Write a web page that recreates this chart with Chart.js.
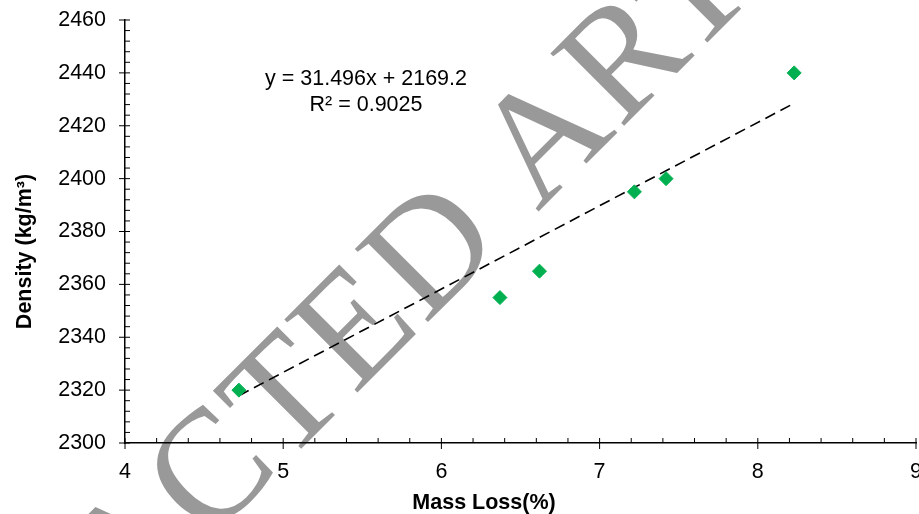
<!DOCTYPE html>
<html><head><meta charset="utf-8">
<script src="https://cdn.jsdelivr.net/npm/chart.js@4.4.1/dist/chart.umd.min.js"></script>
<style>html,body{margin:0;padding:0;background:#fff;overflow:hidden}canvas{display:block}</style>
</head><body>
<canvas id="c" width="919" height="514"></canvas>
<script>
// ---- data ----
const massLoss = [4.72, 6.37, 6.62, 7.22, 7.42, 8.23];
const density  = [2320, 2355, 2365, 2395, 2400, 2440];
const trendX   = [4.72, 8.23];
const trendY   = [2317.9, 2428.5];
const xTicks   = [4, 5, 6, 7, 8, 9];
const yTicks   = [2300, 2320, 2340, 2360, 2380, 2400, 2420, 2440, 2460];
const equationLines = ['y = 31.496x + 2169.2', 'R\u00b2 = 0.9025'];
const xTitle = 'Mass Loss(%)';
const yTitle = 'Density (kg/m\u00b3)';
const watermarkWords = ['RETRACTED ', 'ARTICLE'];

const FONT = "'Liberation Sans', Arial, sans-serif";
Chart.defaults.font.family = FONT;
Chart.defaults.color = '#000';

const decor = {
  id: 'decor',
  beforeDraw(chart) {
    const ctx = chart.ctx;
    ctx.save();
    ctx.translate(537.5, 212.5);
    ctx.rotate(-Math.PI / 4);
    ctx.fillStyle = '#999999';
    ctx.font = "158px 'Liberation Serif', 'Times New Roman', serif";
    try { ctx.letterSpacing = '3px'; } catch (e) {}
    ctx.textBaseline = 'alphabetic';
    ctx.textAlign = 'right';
    ctx.fillText(watermarkWords[0], 0, 0);
    ctx.textAlign = 'left';
    ctx.fillText(watermarkWords[1], 0, 0);
    ctx.restore();
  },
  afterDraw(chart) {
    const ctx = chart.ctx;
    const xs = chart.scales.x, ys = chart.scales.y;
    const a = chart.chartArea;
    ctx.save();
    ctx.strokeStyle = '#000';
    ctx.lineWidth = 1;
    ctx.beginPath();
    for (let i = 0; i < yTicks.length; i++) {
      const py = ys.getPixelForValue(yTicks[i]);
      ctx.moveTo(a.left - 6, py); ctx.lineTo(a.left + 5, py);
      if (i < yTicks.length - 1) {
        const step = (yTicks[i + 1] - yTicks[i]) / 5;
        for (let k = 1; k < 5; k++) {
          const p = ys.getPixelForValue(yTicks[i] + k * step);
          ctx.moveTo(a.left, p); ctx.lineTo(a.left + 5, p);
        }
      }
    }
    for (let i = 0; i < xTicks.length; i++) {
      const px = xs.getPixelForValue(xTicks[i]);
      ctx.moveTo(px, a.bottom - 5); ctx.lineTo(px, a.bottom + 6);
      if (i < xTicks.length - 1) {
        const step = (xTicks[i + 1] - xTicks[i]) / 5;
        for (let k = 1; k < 5; k++) {
          const p = xs.getPixelForValue(xTicks[i] + k * step);
          ctx.moveTo(p, a.bottom - 5); ctx.lineTo(p, a.bottom);
        }
      }
    }
    ctx.stroke();

    ctx.fillStyle = '#000';
    ctx.font = "21.5px " + FONT;
    ctx.textAlign = 'center';
    ctx.textBaseline = 'alphabetic';
    ctx.fillText(equationLines[0], 366, 85);
    ctx.fillText(equationLines[1], 366, 111);

    ctx.font = "bold 21.5px " + FONT;
    ctx.fillText(xTitle, 484, 509);
    ctx.save();
    ctx.translate(31, 251.5);
    ctx.rotate(-Math.PI / 2);
    ctx.fillText(yTitle, 0, 0);
    ctx.restore();
    ctx.restore();
  }
};

new Chart(document.getElementById('c'), {
  type: 'scatter',
  data: {
    datasets: [
      {
        label: 'Density',
        data: massLoss.map((x, i) => ({ x: x, y: density[i] })),
        pointStyle: 'rectRot',
        pointRadius: 7,
        pointBorderWidth: 1,
        backgroundColor: '#00B050',
        borderColor: '#00B050',
        clip: false,
        order: 1
      },
      {
        label: 'Linear',
        type: 'line',
        data: trendX.map((x, i) => ({ x: x, y: trendY[i] })),
        showLine: true,
        borderColor: '#000',
        borderWidth: 1.6,
        borderDash: [11, 6],
        pointRadius: 0,
        fill: false,
        clip: false,
        order: 2
      }
    ]
  },
  options: {
    responsive: false,
    animation: false,
    devicePixelRatio: 1,
    layout: { autoPadding: false, padding: { top: 20, right: 3, left: 0, bottom: 0 } },
    plugins: { legend: { display: false }, tooltip: { enabled: false } },
    scales: {
      x: {
        type: 'linear', min: 4, max: 9,
        afterBuildTicks: s => { s.ticks = xTicks.map(v => ({ value: v })); },
        afterFit: s => { s.height = 71; s.paddingLeft = 0; s.paddingRight = 0; },
        grid: { display: false, drawTicks: false },
        border: { display: true, color: '#000', width: 1.5 },
        ticks: { font: { size: 21.5 }, color: '#000', padding: 16, maxRotation: 0, callback: v => String(v) }
      },
      y: {
        type: 'linear', min: 2300, max: 2460,
        afterBuildTicks: s => { s.ticks = yTicks.map(v => ({ value: v })); },
        afterFit: s => { s.width = 125; s.paddingTop = 0; s.paddingBottom = 0; },
        grid: { display: false, drawTicks: false },
        border: { display: true, color: '#000', width: 1.5 },
        ticks: { font: { size: 21.5 }, color: '#000', padding: 19, callback: v => String(v) }
      }
    }
  },
  plugins: [decor]
});
</script>
</body></html>
